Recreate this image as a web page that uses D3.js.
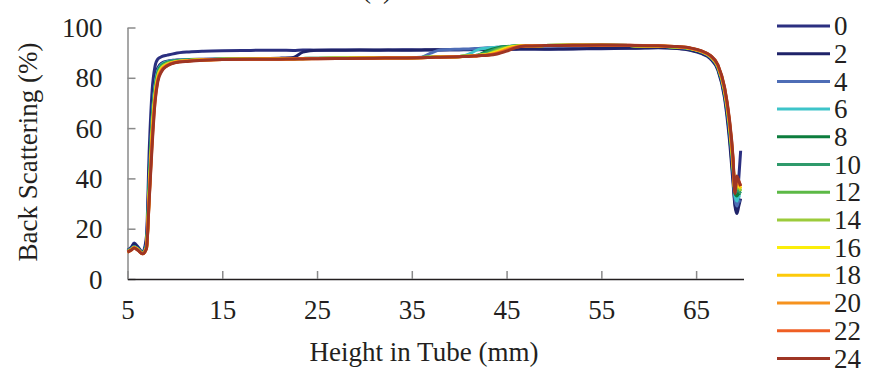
<!DOCTYPE html>
<html>
<head>
<meta charset="utf-8">
<script src="https://cdn.jsdelivr.net/npm/d3@7"></script>
<style>
  body { margin: 0; background: #fff; }
  svg text { font-family: "Liberation Serif", "Times New Roman", Times, serif !important; fill: #231f20; }
</style>
</head>
<body>
<div id="chart"></div>
<script>
// heights in tube (mm)
const heights = [5, 5.4, 5.7, 6.1, 6.6, 7.0, 7.3, 7.6, 7.9, 8.2, 8.6, 9.2, 10, 11.5, 13, 15, 18, 21, 22.5, 23.5,
  25, 28, 31, 34, 36, 37, 38, 40, 41, 42, 43, 44, 45, 46, 47, 49, 52, 55, 58, 61,
  63, 64.5, 65.5, 66.5, 67.3, 68, 68.5, 68.9, 69.1, 69.3, 69.5, 69.7];

// back scattering (%) per time
const bs0 = [11.4, 12.6, 14.3, 12.8, 10.7, 17, 52, 75, 84.5, 87.5, 88.4, 89, 89.7, 90.3, 90.6, 90.8, 90.9, 91.0, 90.9, 91.1,
  91.0, 91.1, 91.0, 91.2, 91.1, 91.1, 91.2, 91.2, 91.3, 91.2, 91.3, 91.4, 91.4, 91.5, 91.5, 91.4, 91.6, 91.6, 91.8, 92.0,
  91.7, 91.0, 90.0, 88.0, 83.5, 73, 58, 40, 30, 27, 40, 51];
const bs2 = [11.0, 12.2, 13.8, 12.4, 10.5, 15, 44, 68, 79, 84, 85.8, 86.6, 87.0, 87.3, 87.4, 87.5, 87.6, 87.8, 88.1, 90.2,
  91.0, 91.0, 91.1, 91.0, 91.1, 91.2, 91.1, 91.2, 91.2, 91.3, 91.2, 91.3, 91.3, 91.4, 91.5, 91.5, 91.5, 91.7, 91.7, 91.9,
  91.6, 90.8, 89.7, 87.6, 83, 72, 56, 38, 29, 26, 29, 32];
const bs4 = [11.2, 12.0, 12.9, 12.0, 10.4, 14, 40, 64, 77, 83, 85.4, 86.4, 86.9, 87.2, 87.3, 87.4, 87.6, 87.6, 87.7, 87.7,
  87.8, 87.8, 88.0, 88.0, 88.2, 89.8, 91.1, 91.4, 91.5, 91.7, 91.9, 92.1, 92.4, 92.6, 92.7, 92.8, 92.8, 92.9, 92.8, 92.6,
  92.1, 91.4, 90.3, 88.2, 84, 74, 60, 43, 32, 29, 31, 31];
const bs6 = [11.1, 11.9, 12.8, 11.9, 10.4, 13.5, 39, 63, 76.5, 82.5, 85.2, 86.3, 86.8, 87.1, 87.3, 87.4, 87.5, 87.6, 87.6, 87.7,
  87.7, 87.8, 87.9, 88.0, 88.1, 88.2, 88.3, 88.4, 89.4, 91.2, 91.8, 92.1, 92.4, 92.6, 92.7, 92.8, 92.9, 92.9, 92.8, 92.6,
  92.2, 91.5, 90.4, 88.4, 84.2, 74.5, 61, 44, 33, 31, 33, 33];
const bs8 = [11.0, 11.8, 12.7, 11.8, 10.3, 13.2, 38, 62, 75.5, 82, 85, 86.1, 86.7, 87.1, 87.2, 87.4, 87.5, 87.6, 87.6, 87.7,
  87.7, 87.8, 87.9, 88.0, 88.1, 88.2, 88.3, 88.5, 88.7, 89.0, 90.8, 91.9, 92.4, 92.6, 92.7, 92.8, 92.9, 92.9, 92.8, 92.6,
  92.2, 91.5, 90.5, 88.5, 84.3, 74.8, 61.5, 44.5, 34, 33, 34, 34];
const bs10 = [11.0, 11.8, 12.7, 11.8, 10.3, 13, 37, 61, 75, 81.6, 84.7, 86.0, 86.6, 87.0, 87.2, 87.4, 87.5, 87.5, 87.6, 87.7,
  87.7, 87.8, 87.9, 88.0, 88.1, 88.2, 88.3, 88.5, 88.7, 89.0, 90.2, 91.6, 92.3, 92.6, 92.7, 92.8, 92.9, 92.9, 92.8, 92.6,
  92.2, 91.5, 90.5, 88.5, 84.4, 75, 62, 45, 34.5, 35, 35, 34];
const bs12 = [10.9, 11.7, 12.6, 11.7, 10.2, 12.8, 36, 60, 74, 81.2, 84.4, 85.8, 86.5, 87.0, 87.2, 87.4, 87.5, 87.6, 87.6, 87.7,
  87.8, 87.8, 87.9, 88.0, 88.1, 88.2, 88.3, 88.5, 88.7, 89.0, 89.6, 91.2, 92.2, 92.6, 92.7, 92.8, 92.9, 92.9, 92.8, 92.6,
  92.2, 91.5, 90.5, 88.5, 84.5, 75, 62, 45, 35, 36, 36, 35];
const bs14 = [10.9, 11.7, 12.6, 11.7, 10.2, 12.6, 35, 59, 73.5, 80.8, 84.1, 85.6, 86.4, 86.9, 87.2, 87.4, 87.5, 87.5, 87.6, 87.7,
  87.7, 87.8, 87.9, 88.0, 88.1, 88.2, 88.3, 88.5, 88.6, 88.9, 89.4, 90.8, 92.0, 92.5, 92.7, 92.8, 92.9, 92.9, 92.8, 92.6,
  92.3, 91.6, 90.6, 88.6, 84.6, 75.2, 62.2, 45.5, 35, 37, 37, 35];
const bs16 = [10.8, 11.6, 12.5, 11.6, 10.1, 12.4, 34.5, 58, 73, 80.3, 83.8, 85.4, 86.3, 86.9, 87.2, 87.4, 87.4, 87.5, 87.6, 87.6,
  87.7, 87.8, 87.9, 88.0, 88.1, 88.2, 88.3, 88.5, 88.6, 88.9, 89.3, 90.4, 91.8, 92.5, 92.7, 92.8, 92.9, 92.9, 92.8, 92.6,
  92.3, 91.6, 90.6, 88.6, 84.7, 75.4, 62.5, 46, 35, 38, 37, 36];
const bs18 = [10.8, 11.6, 12.5, 11.6, 10.1, 12.3, 34, 57, 72, 79.8, 83.5, 85.2, 86.2, 86.8, 87.1, 87.3, 87.4, 87.5, 87.5, 87.6,
  87.7, 87.8, 87.9, 87.9, 88.0, 88.1, 88.2, 88.4, 88.6, 88.9, 89.2, 90.1, 91.5, 92.4, 92.7, 92.8, 92.9, 92.9, 92.8, 92.6,
  92.3, 91.6, 90.6, 88.7, 84.8, 75.5, 62.8, 46.5, 35, 39, 38, 36];
const bs20 = [10.8, 11.5, 12.4, 11.5, 10.0, 12.2, 33, 56, 71.5, 79.4, 83.2, 85.1, 86.2, 86.8, 87.1, 87.3, 87.4, 87.5, 87.5, 87.6,
  87.7, 87.7, 87.8, 87.9, 88.0, 88.1, 88.2, 88.4, 88.6, 88.8, 89.1, 89.9, 91.2, 92.3, 92.7, 92.8, 92.9, 92.9, 92.8, 92.7,
  92.3, 91.7, 90.7, 88.7, 84.9, 75.8, 63, 47, 34.5, 40, 38, 37];
const bs22 = [10.7, 11.5, 12.4, 11.5, 10.0, 12.1, 32.5, 54.5, 70.5, 79, 82.9, 84.9, 86.1, 86.7, 87.0, 87.3, 87.4, 87.4, 87.5, 87.6,
  87.6, 87.7, 87.8, 87.9, 88.0, 88.1, 88.2, 88.4, 88.5, 88.8, 89.0, 89.7, 90.9, 92.2, 92.6, 92.8, 92.9, 92.9, 92.9, 92.7,
  92.4, 91.7, 90.7, 88.8, 85, 76, 63.5, 47.5, 34.5, 40.5, 39, 37];
const bs24 = [10.7, 11.5, 12.3, 11.4, 10.0, 12, 32, 53, 70, 78.5, 82.5, 84.8, 86.0, 86.6, 87.0, 87.3, 87.4, 87.4, 87.5, 87.5,
  87.6, 87.7, 87.8, 87.9, 88.0, 88.1, 88.2, 88.4, 88.5, 88.8, 89.0, 89.5, 90.6, 92.0, 92.6, 92.8, 92.9, 93.0, 92.9, 92.7,
  92.4, 91.8, 90.8, 88.9, 85.2, 76.3, 64, 48, 34, 41, 39, 37];

const times = ['0', '2', '4', '6', '8', '10', '12', '14', '16', '18', '20', '22', '24'];
const seriesValues = [bs0, bs2, bs4, bs6, bs8, bs10, bs12, bs14, bs16, bs18, bs20, bs22, bs24];
const colors = ['#2b2f80', '#1f2369', '#4e6db6', '#3ec4c9', '#0c7d3d', '#2e9a6b', '#5cb946', '#9ccb3b',
  '#fbee0b', '#fdca0a', '#f6921e', '#ef5f24', '#9e3524'];

const xTicks = [5, 15, 25, 35, 45, 55, 65];
const yTicks = [0, 20, 40, 60, 80, 100];

const fontStack = '"Liberation Serif", "Times New Roman", Times, serif';
const width = 869;
const height = 369;
const margin = { top: 27.5, right: 125.5, bottom: 90, left: 127.5 };

const svg = d3.select('#chart')
  .append('svg')
  .attr('width', width)
  .attr('height', height)
  .attr('font-family', fontStack);

const x = d3.scaleLinear().domain([5, 70]).range([margin.left, width - margin.right]);
const y = d3.scaleLinear().domain([0, 100]).range([height - margin.bottom, margin.top]);

// y axis (ticks inward)
const yAxis = svg.append('g')
  .attr('transform', 'translate(' + margin.left + ',0)')
  .call(d3.axisLeft(y).tickValues(yTicks).tickSize(-8).tickPadding(25).tickSizeOuter(0))
  .attr('font-family', fontStack);
yAxis.select('.domain').attr('stroke', '#8a8a8a').attr('stroke-width', 1.5);
yAxis.selectAll('.tick line').attr('stroke', '#8a8a8a').attr('stroke-width', 1.5);
yAxis.selectAll('.tick text').style('font-size', '27px').attr('dy', '0.34em');

// x axis (ticks inward)
const xAxis = svg.append('g')
  .attr('transform', 'translate(0,' + y(0) + ')')
  .call(d3.axisBottom(x).tickValues(xTicks).tickSize(-8).tickPadding(21).tickSizeOuter(0))
  .attr('font-family', fontStack);
xAxis.select('.domain').attr('stroke', '#231f20').attr('stroke-width', 1.5);
xAxis.selectAll('.tick line').attr('stroke', '#8a8a8a').attr('stroke-width', 1.5);
xAxis.selectAll('.tick text').style('font-size', '27px');

// lines
const line = d3.line()
  .x((d, i) => x(heights[i]))
  .y(d => y(d))
  .curve(d3.curveMonotoneX);

svg.append('g')
  .selectAll('path')
  .data(seriesValues)
  .join('path')
  .attr('d', d => line(d))
  .attr('fill', 'none')
  .attr('stroke', (d, i) => colors[i])
  .attr('stroke-width', 3)
  .attr('stroke-linejoin', 'round');

// axis titles
svg.append('text')
  .text('Height in Tube (mm)')
  .attr('x', 424)
  .attr('y', 361)
  .attr('text-anchor', 'middle')
  .style('font-size', '27px');

svg.append('text')
  .text('Back Scattering (%)')
  .attr('transform', 'translate(37,152) rotate(-90)')
  .attr('text-anchor', 'middle')
  .style('font-size', '27px');

// panel label, mostly cut off at the top
svg.append('text')
  .text('(a)')
  .attr('x', 377)
  .attr('y', -2)
  .attr('text-anchor', 'middle')
  .style('font-size', '27px');

// legend
const legend = svg.append('g');
times.forEach((t, i) => {
  const ly = 26 + i * 27.7;
  legend.append('line')
    .attr('x1', 777)
    .attr('x2', 830)
    .attr('y1', ly)
    .attr('y2', ly)
    .attr('stroke', colors[i])
    .attr('stroke-width', 3);
  legend.append('text')
    .text(t)
    .attr('x', 834)
    .attr('y', ly)
    .attr('dy', '0.34em')
    .style('font-size', '27px');
});
</script>
</body>
</html>
